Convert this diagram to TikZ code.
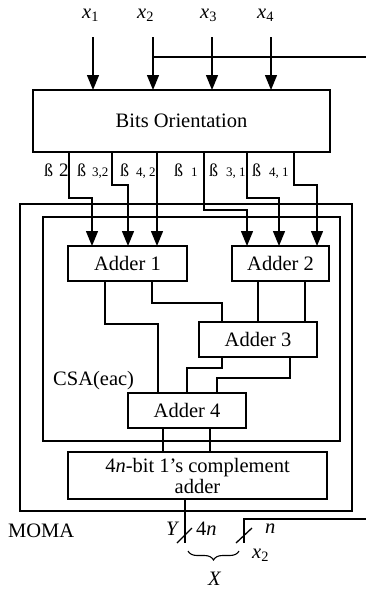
\documentclass[tikz,border=0pt]{standalone}
\usepackage{fontspec}
\setmainfont{Liberation Serif}
\usetikzlibrary{arrows.meta,calc,decorations.pathreplacing}
\begin{document}
\begin{tikzpicture}[x=1pt,y=-1pt,
  box/.style={draw,line width=1.3pt,inner sep=0pt,outer sep=0pt,align=center,font=\fontsize{20.5}{21}\selectfont},
  wire/.style={line width=1.3pt},
  arr/.style={wire,-{Triangle[length=15pt,width=12pt]}},
  lbl/.style={inner sep=0pt,anchor=base west,font=\fontsize{20.5}{24}\selectfont},
  betalbl/.style={inner sep=0pt,anchor=base west,font=\fontsize{18}{18}\selectfont}
]
\useasboundingbox (0,0) rectangle (366,589);

% boxes
\node[box,minimum width=297pt,minimum height=62pt] (bits) at (181.5,121) {Bits Orientation};
\node[box,minimum width=332pt,minimum height=307pt] (moma) at (186,357.5) {};
\node[box,minimum width=297pt,minimum height=224pt] (csa) at (191.5,329) {};
\node[box,minimum width=119pt,minimum height=35pt] (a1) at (127.5,263.5) {Adder 1};
\node[box,minimum width=97pt,minimum height=35pt] (a2) at (280.5,263.5) {Adder 2};
\node[box,minimum width=118pt,minimum height=35pt] (a3) at (258,339.5) {Adder 3};
\node[box,minimum width=118pt,minimum height=35pt] (a4) at (187,410.5) {Adder 4};
\node[box,minimum width=259pt,minimum height=47pt] (cpa) at (197.5,475.5) {4\textit{n}-bit 1's complement\\adder};

% input labels and arrows
\node[lbl] (lx1) at (82,18) {\textit{x}\textsubscript{1}};
\node[lbl] (lx2) at (137,18) {\textit{x}\textsubscript{2}};
\node[lbl] (lx3) at (200,18) {\textit{x}\textsubscript{3}};
\node[lbl] (lx4) at (257,18) {\textit{x}\textsubscript{4}};
\coordinate (t1) at (93,37);
\coordinate (t2) at (153,37);
\coordinate (t3) at (212,37);
\coordinate (t4) at (271,37);
\draw[arr] (t1) -- (bits.north -| t1);
\draw[arr] (t2) -- (bits.north -| t2);
\draw[arr] (t3) -- (bits.north -| t3);
\draw[arr] (t4) -- (bits.north -| t4);
\coordinate (e1) at (366,57);
\draw[wire] (t2 |- e1) -- (e1);

% beta labels
\node[betalbl] (lb2) at (44,176) {ß\kern6pt{\fontsize{19}{19}\selectfont 2}};
\node[betalbl] (lb32) at (77,176) {ß\kern6pt{\fontsize{13}{13}\selectfont 3,2}};
\node[betalbl] (lb42) at (120,176) {ß\kern7pt{\fontsize{13}{13}\selectfont 4, 2}};
\node[betalbl] (lb1) at (174,176) {ß\kern8pt{\fontsize{13}{13}\selectfont 1}};
\node[betalbl] (lb31) at (209,176) {ß\kern8pt{\fontsize{13}{13}\selectfont 3, 1}};
\node[betalbl] (lb41) at (252,176) {ß\kern8pt{\fontsize{13}{13}\selectfont 4, 1}};

% beta wires
\draw[arr] ($(bits.south west)+(36,0)$) |- ($(a1.north west)+(24,-48)$) -- ($(a1.north west)+(24,0)$);
\draw[arr] ($(bits.south west)+(79,0)$) |- ($(a1.north west)+(60,-61)$) -- ($(a1.north west)+(60,0)$);
\draw[arr] ($(bits.south west)+(124,0)$) -- ($(a1.north west)+(89,0)$);
\draw[arr] ($(bits.south west)+(171,0)$) |- ($(a2.north west)+(15,-36)$) -- ($(a2.north west)+(15,0)$);
\draw[arr] ($(bits.south west)+(214,0)$) |- ($(a2.north west)+(47,-48)$) -- ($(a2.north west)+(47,0)$);
\draw[arr] ($(bits.south west)+(261,0)$) |- ($(a2.north west)+(85,-61)$) -- ($(a2.north west)+(85,0)$);

% adder wires
\draw[wire] ($(a1.south west)+(37,0)$) |- ($(a4.north west)+(30,-69)$) -- ($(a4.north west)+(30,0)$);
\draw[wire] ($(a1.south west)+(84,0)$) |- ($(a3.north west)+(23,-19)$) -- ($(a3.north west)+(23,0)$);
\draw[wire] ($(a2.south west)+(26,0)$) -- ($(a3.north west)+(59,0)$);
\draw[wire] ($(a2.south west)+(73,0)$) -- ($(a3.north west)+(106,0)$);
\draw[wire] ($(a3.south west)+(23,0)$) |- ($(a4.north west)+(59,-25)$) -- ($(a4.north west)+(59,0)$);
\draw[wire] ($(a3.south west)+(91,0)$) |- ($(a4.north west)+(89,-15)$) -- ($(a4.north west)+(89,0)$);
\draw[wire] ($(a4.south west)+(35,0)$) -- ($(cpa.north west)+(95,0)$);
\draw[wire] ($(a4.south west)+(82,0)$) -- ($(cpa.north west)+(142,0)$);

% outputs
\coordinate (yend) at (185,543);
\draw[wire] ($(cpa.south west)+(117,0)$) -- (yend);
\coordinate (e2) at (366,519);
\coordinate (x2end) at (244,543);
\draw[wire] (e2) -| (x2end);
\draw[wire] ($(yend)+(-8,0)$) -- ++(15,-15);
\draw[wire] ($(x2end)+(-8,0)$) -- ++(16,-15);
\draw[line width=1.1pt,decorate,decoration={brace,amplitude=9pt}] (239,551) -- (188,551);

% labels
\node[lbl] (lmoma) at (8,537) {MOMA};
\node[lbl] (lcsa) at (53,385) {CSA(eac)};
\node[lbl] (ly) at (166,535) {\textit{Y}};
\node[lbl] (l4n) at (196,535) {4\textit{n}};
\node[lbl] (ln) at (265,533) {\textit{n}};
\node[lbl] (lx2b) at (252,558) {\textit{x}\textsubscript{2}};
\node[lbl] (lX) at (208,585) {\textit{X}};
\end{tikzpicture}
\end{document}
